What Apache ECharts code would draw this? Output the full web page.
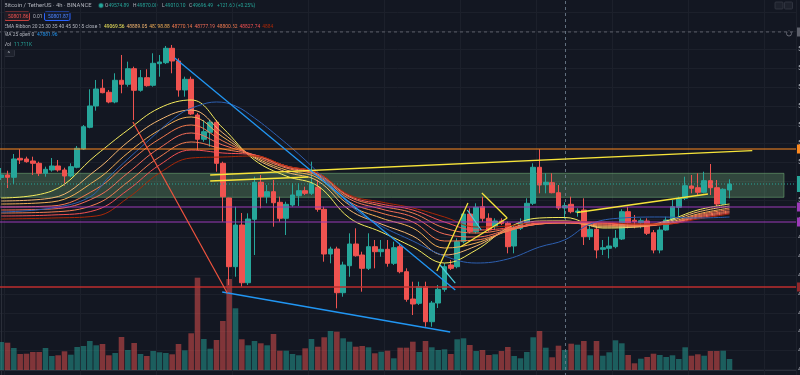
<!DOCTYPE html>
<html>
<head>
<meta charset="utf-8">
<title>Bitcoin / TetherUS 4h</title>
<script src="https://cdn.jsdelivr.net/npm/echarts@6/dist/echarts.min.js"></script>
<style>
html, body { margin: 0; padding: 0; background: #131722; }
#chart { width: 800px; height: 375px; }
</style>
</head>
<body>
<div id="chart"></div>
<script>
// ---- data (BTCUSDT 4h, Binance) ----
const opens = [51197,51330,51208,52218,52181,52075,51952,51420,51596,51809,
  51596,51277,51740,52713,53868,55001,55942,55730,55214,56368,
  56155,56985,55836,56506,56102,57251,57304,58070,57395,55852,
  56421,54522,53229,53602,54134,51952,50106,46452,48670,45600,
  48973,50942,50176,50442,49878,49026,49734,50229,50495,50356,
  50676,49505,47127,47393,45068,46505,47659,47074,46366,47516,
  47250,47377,46632,47516,46186,44733,44504,45388,43526,44520,
  45249,46542,46452,47782,49255,48314,49644,49026,48580,48883,
  48760,47553,48494,48760,49824,51740,50814,50920,50388,49574.89,
  49771,49346,49468,48048,48441,47377,47430,47516,47925,49378,
  48920,48792,48883,48260,47340,48404,48936,49612,50090,50745,
  50654,50410,51027,50654,49787,50532];
const highs = [51702,51559,52447,52697,52304,52304,52038,51772,52234,52128,
  51718,51952,52873,53990,55889,56384,56421,55852,56740,57714,
  57358,57092,56916,56953,57804,57714,58193,58246,57538,56560,
  56560,54628,54256,54256,54256,52038,50122,49644,49308,49292,
  51240,51330,50798,51064,50176,49910,50888,50888,50708,52038,
  51064,49644,47516,47516,46718,48228,48494,47250,48228,47872,
  47872,47872,47782,47696,46366,45654,45654,45654,44627,45478,
  46632,46808,47962,49378,49558,49824,50176,49292,49026,49026,
  48846,48670,49026,50090,51952,52697,51420,51420,50798,49870,
  50176,49558,50090,48670,48617,47872,48048,48404,49505,49644,
  49202,49026,49026,48404,48580,49112,50000,50176,51240,51330,
  51420,51506,51915,51064,50622,51101];
const lows = [51064,50638,50851,51915,51984,51330,51277,51240,51506,51506,
  50761,51208,51686,52660,53814,54751,55676,55144,55144,55676,
  56028,54256,55762,56028,56028,56560,57235,56740,55496,55496,
  54522,52660,53102,52836,51506,48846,45478,45920,45388,45478,
  47074,49558,49824,48580,48846,48138,49644,49681,50266,50266,
  49378,46718,46632,44238,44856,45920,46984,45122,46276,46366,
  46984,46452,46542,46100,44590,43882,44414,43260,43260,44254,
  45122,46276,46366,47696,48228,48228,48846,48314,48404,48670,
  47164,47164,48404,48670,49734,50356,50356,50356,49468,49010.10,
  49292,49112,47606,47872,46898,47074,46898,47430,47872,48494,
  48494,48494,48138,47164,47164,48367,48846,49112,50000,50356,
  50266,50356,50266,49681,49734,50090];
const closes = [51330,51208,52181,52128,52038,51952,51420,51633,51809,51596,
  51277,51772,52750,53900,55001,55905,55708,55214,56368,56155,
  56985,55836,56506,56081,57272,57342,58070,57395,55852,56421,
  54575,53229,53634,54134,51952,50176,46452,48670,45600,48989,
  50942,50176,50442,49856,49026,49771,50266,50495,50356,50888,
  49505,47127,47393,45068,46542,47659,47037,46366,47516,47250,
  47377,46632,47462,46186,44717,44467,45388,43526,44520,45249,
  46452,46366,47782,49255,48314,49612,49026,48404,48883,48760,
  47516,48494,48792,49824,51740,50798,50942,50388,49574.89,49696.49,
  49378,49415,48048,48441,47340,47462,47553,47962,49378,48792,
  48846,48899,48228,47340,48404,48936,49644,50090,50761,50622,
  50410,51027,50654,49787,50569,50851];
const volumes = [16390,15980,12880,9370,9540,10540,10540,12880,8200,8610,
  10950,8960,13470,14050,16980,14460,15220,8610,9950,19320,
  11710,15810,9370,8200,11120,10360,9950,9190,15220,11530,
  21490,54040,18150,12470,17570,28690,53280,36130,17980,14460,
  16980,15630,14460,21080,11300,11300,9370,8610,12710,18150,
  13640,19150,22830,22420,18560,16570,13640,14050,13290,9780,
  10710,11300,6850,13060,13060,16570,10540,16980,13290,11710,
  12120,9370,17980,18560,14640,11120,11710,8780,9190,11120,
  13470,8200,6850,10540,19150,22830,13060,7440,14230,11711,
  15400,14810,16980,8610,16980,8370,10360,17390,15630,8780,
  3920,6620,7610,9540,8780,7610,8610,6440,13290,8370,
  9190,8370,11120,11120,11300,6440];

// EMA ribbon (20..55) read at these candle indices
const emaIdx = [0,8,15,20,25,30,35,40,45,50,55,60,65,70,75,80,85,89,95,100,105,110,115];
const ema20 = [50106,50479,52394,53724,54894,55320,53830,52128,51277,50745,49042,48298,47500,46648,47340,48510,49042,49069.56,48510,48564,48883,49468,49787];
const ema25 = [49947,50106,51596,53086,54256,54788,53564,52234,51490,51011,49468,48723,48085,47074,47553,48404,48883,48889.05,48564,48564,48830,49362,49681];
const ema30 = [49787,49894,51064,52500,53724,54416,53352,52288,51596,51170,49734,49042,48510,47446,47712,48351,48776,48798.88,48617,48617,48776,49255,49574];
const ema35 = [49628,49681,50585,51968,53245,53990,53139,52341,51702,51277,49894,49308,48830,47819,47872,48351,48723,48770.14,48670,48617,48723,49202,49495];
const ema40 = [49468,49521,50160,51436,52766,53564,52926,52394,51756,51330,50053,49521,49096,48191,48032,48404,48723,48777.19,48723,48670,48723,49149,49415];
const ema45 = [49308,49362,49787,50958,52288,53086,52713,52394,51809,51383,50160,49681,49308,48510,48244,48457,48723,48800.82,48776,48670,48723,49096,49362];
const ema50 = [49149,49202,49468,50532,51862,52660,52500,52394,51809,51436,50213,49787,49468,48830,48404,48510,48776,48827.74,48776,48723,48723,49042,49308];
const ema55 = [48989,49042,49149,50106,51436,52234,52288,52341,51809,51436,50266,49894,49574,49096,48564,48617,48830,48845,48830,48723,48723,48989,49255];

// MA 25 (open)
const maIdx = [0,8,14,17,23,28,31,34,37,40,44,48,52,56,60,65,70,75,80,85,89,93,98,104,110,115];
const ma25 = [49362,49574,50160,51224,53086,54522,55001,55214,55001,54362,53298,52128,50798,49468,48617,47819,47021,46648,46861,47500,47881.96,48723,49042,49096,49042,49096];

// drawings: [candle index, price] pairs
const yellowLines = [
  [[33.0, 51330], [118.6, 52623]],
  [[33.0, 51011], [48.5, 51224]],
  [[68.8, 46223], [73.7, 49840]],
  [[75.9, 50372], [79.9, 49042]],
  [[72.5, 47500], [79.9, 49042]],
  [[90.9, 49335], [111.6, 50319]]
];
const blueLines = [
  [[27.4, 57554], [71.7, 45212]],
  [[34.9, 45106], [70.9, 42978]]
];
const cyanLines = [
  [[69.3, 46542], [71.7, 45584]],
  [[73.6, 49468], [75.8, 48404]]
];
const redLines = [
  [[20.8, 54150], [35.7, 45052]]
];
const zoneTop = 51420, zoneBottom = 50144, zoneEnd = 123.6;
const levelPrices = [52713, 49628, 48830, 45372];
const alertPrice = 58940;
const crosshairIndex = 89;
const TOTAL_SLOTS = 126;

// categories: 4h candles starting 2021-02-17 00:00 UTC
const categories = [];
for (let k = 0; k < TOTAL_SLOTS; k++) {
  const d = new Date(Date.UTC(2021, 1, 17) + k * 4 * 3600 * 1000);
  categories.push((d.getUTCMonth() + 1) + '/' + d.getUTCDate() + ' ' + String(d.getUTCHours()).padStart(2, '0') + ':00');
}

// ---- chart ----
const UP = '#26a69a', DOWN = '#ef5350';
const emaColors = ['#f5eb5d', '#f5b771', '#f5b056', '#f57b4e', '#f56d58', '#f57d51', '#f55151', '#aa2707'];
const levelColors = ['#ff8a1f', '#9c3bb8', '#9c3bb8', 'rgba(190,45,45,0.75)'];
const font = 'Roboto';
const hf = '4.9px ' + font;

let chart = echarts.init(document.getElementById('chart'));

const candleData = opens.map((o, i) => [o, closes[i], lows[i], highs[i]]);
const volData = volumes.map((v, i) => ({
  value: v,
  itemStyle: {color: closes[i] >= opens[i] ? 'rgba(38,166,154,0.5)' : 'rgba(239,83,80,0.5)'}
}));
const lastClose = closes[closes.length - 1];

function tag(color, text) {
  return {
    show: true, position: 'end', distance: 0, formatter: text,
    backgroundColor: color, color: '#fff', fontSize: 7, fontFamily: font,
    padding: [1, 3]
  };
}

const emaSeries = [ema20, ema25, ema30, ema35, ema40, ema45, ema50, ema55].map((arr, j) => ({
  type: 'line', xAxisIndex: 2, yAxisIndex: 0, z: 5,
  data: emaIdx.map((k, n) => [k, arr[n]]),
  smooth: 0.4, symbol: 'none',
  lineStyle: {color: emaColors[j], width: 1}
}));

function segSeries(list, color, width) {
  return list.map(seg => ({
    type: 'line', xAxisIndex: 2, yAxisIndex: 0, z: 8,
    data: seg, symbol: 'none', lineStyle: {color: color, width: width}
  }));
}

// horizontal levels drawn as flat two-point lines across the pane
function levelSeries(price, color, width, dash) {
  return {
    type: 'line', xAxisIndex: 2, yAxisIndex: 0, z: 6, symbol: 'none', silent: true,
    data: [[-0.5, price], [TOTAL_SLOTS - 0.5, price]],
    lineStyle: {color: color, width: width, type: dash || 'solid'},
    endLabel: {show: true, distance: 1, backgroundColor: color, color: '#fff', fontSize: 7,
      fontFamily: font, padding: [1, 3], formatter: price.toFixed(2)}
  };
}

const option = {
  backgroundColor: '#131722',
  animation: false,
  grid: [
    {left: -2, right: 4, top: -6.8, bottom: -13, outerBoundsMode: 'none', containLabel: false},
    {left: -2, right: 4, top: 267.5, bottom: 5, outerBoundsMode: 'none', containLabel: false}
  ],
  xAxis: [
    {
      type: 'category', gridIndex: 0, data: categories, boundaryGap: true,
      axisLine: {show: false}, axisTick: {show: false}, axisLabel: {show: false},
      splitLine: {show: true, interval: (idx) => idx % 12 === 1, lineStyle: {color: '#1c202b'}}
    },
    {
      type: 'category', gridIndex: 1, data: categories, boundaryGap: true,
      axisLine: {show: false}, axisTick: {show: false}, axisLabel: {show: false}, splitLine: {show: false}
    },
    {type: 'value', gridIndex: 0, min: -0.5, max: TOTAL_SLOTS - 0.5, show: false}
  ],
  yAxis: [
    {
      type: 'value', gridIndex: 0, position: 'right', min: 40000, max: 61000, interval: 1000,
      axisLine: {show: true, lineStyle: {color: '#2a2e39'}},
      axisTick: {show: false},
      axisLabel: {color: '#b2b5be', fontSize: 7, fontFamily: font, margin: 2,
        formatter: v => (v <= 58000 ? v.toFixed(2) : '')},
      splitLine: {show: true, lineStyle: {color: '#1c202b'}}
    },
    {type: 'value', gridIndex: 1, min: 0, max: 60000, show: false, splitLine: {show: false}}
  ],
  series: [
    {
      type: 'bar', xAxisIndex: 1, yAxisIndex: 1, data: volData, barWidth: '88%', z: 1
    },
    {
      type: 'candlestick', xAxisIndex: 0, yAxisIndex: 0, data: candleData, barWidth: '80%', z: 3,
      itemStyle: {color: UP, color0: DOWN, borderColor: UP, borderColor0: DOWN, borderWidth: 1},
      markLine: {
        symbol: 'none', silent: true, label: {show: false},
        data: [{xAxis: crosshairIndex, lineStyle: {color: '#758696', type: [3, 3], width: 1, opacity: 0.8}}]
      }
    },
    {
      type: 'line', xAxisIndex: 2, yAxisIndex: 0, z: 2, data: [[0, zoneTop]], symbol: 'none',
      lineStyle: {opacity: 0},
      markArea: {
        silent: true,
        itemStyle: {color: 'rgba(129,199,132,0.28)', borderColor: 'rgba(129,199,132,0.45)', borderWidth: 1},
        data: [[{coord: [-0.5, zoneTop]}, {coord: [zoneEnd, zoneBottom]}]]
      }
    },
    levelSeries(levelPrices[0], levelColors[0], 1.2),
    levelSeries(levelPrices[1], levelColors[1], 1.2),
    levelSeries(levelPrices[2], levelColors[2], 1.2),
    levelSeries(levelPrices[3], levelColors[3], 2),
    levelSeries(alertPrice, '#5d606b', 1, [3, 3]),
    Object.assign(levelSeries(lastClose, UP, 1, [1, 2]), {
      endLabel: {show: true, distance: 1, backgroundColor: UP, color: '#fff', fontSize: 7, lineHeight: 7,
        fontFamily: font, padding: [1, 3], formatter: lastClose.toFixed(2) + '\n01:32:10'}
    }),
    ...emaSeries,
    {
      type: 'line', xAxisIndex: 2, yAxisIndex: 0, z: 5,
      data: maIdx.map((k, n) => [k, ma25[n]]),
      smooth: 0.4, symbol: 'none', lineStyle: {color: '#2d5fb0', width: 1}
    },
    ...segSeries(yellowLines, '#f7e43a', 1.3),
    ...segSeries(blueLines, '#2196f3', 1.3),
    ...segSeries(cyanLines, '#4dd0e1', 1.2),
    ...segSeries(redLines, '#f0533e', 1.2)
  ],
  graphic: [
    {type: 'text', left: 4, top: 2.5, style: {text: 'Bitcoin / TetherUS · 4h · BINANCE', fill: '#b2b5be', font: '5.9px ' + font}},
    {type: 'circle', shape: {cx: 101, cy: 5.5, r: 2}, style: {fill: '#26a69a', stroke: 'rgba(38,166,154,0.4)', lineWidth: 1.5}},
    {type: 'text', left: 105, top: 3, style: {text: 'O', fill: '#b2b5be', font: hf}},
    {type: 'text', left: 108.5, top: 3, style: {text: '49574.89', fill: UP, font: hf}},
    {type: 'text', left: 133, top: 3, style: {text: 'H', fill: '#b2b5be', font: hf}},
    {type: 'text', left: 137, top: 3, style: {text: '49870.00', fill: UP, font: hf}},
    {type: 'text', left: 162, top: 3, style: {text: 'L', fill: '#b2b5be', font: hf}},
    {type: 'text', left: 165, top: 3, style: {text: '49010.10', fill: UP, font: hf}},
    {type: 'text', left: 189, top: 3, style: {text: 'C', fill: '#b2b5be', font: hf}},
    {type: 'text', left: 192.5, top: 3, style: {text: '49696.49', fill: UP, font: hf}},
    {type: 'text', left: 217, top: 3, style: {text: '+121.60 (+0.25%)', fill: UP, font: hf}},

    {type: 'rect', shape: {x: 4.5, y: 12, width: 25, height: 8.5, r: 1.5}, style: {fill: 'rgba(239,83,80,0.08)', stroke: '#c2403d', lineWidth: 1}},
    {type: 'text', left: 8, top: 14, style: {text: '50801.86', fill: '#ef5350', font: hf}},
    {type: 'text', left: 33, top: 14, style: {text: '0.01', fill: '#b2b5be', font: hf}},
    {type: 'rect', shape: {x: 44.5, y: 12, width: 25.5, height: 8.5, r: 1.5}, style: {fill: 'rgba(41,98,255,0.08)', stroke: '#2962ff', lineWidth: 1}},
    {type: 'text', left: 48, top: 14, style: {text: '50801.87', fill: '#4f86ff', font: hf}},

    {type: 'text', left: 4, top: 24, style: {text: 'EMA Ribbon 20 25 30 35 40 45 50 55 close 1', fill: '#b2b5be', font: hf}},
    ...['49069.56', '48889.05', '48798.88', '48770.14', '48777.19', '48800.82', '48827.74', '4884'].map((t, j) => ({
      type: 'text', left: 104 + j * 22.6, top: 24, style: {text: t, fill: emaColors[j], font: hf}
    })),
    {type: 'text', left: 4, top: 32.5, style: {text: 'MA 25 open 0', fill: '#b2b5be', font: hf}},
    {type: 'text', left: 37, top: 32.5, style: {text: '47881.96', fill: '#2196f3', font: hf}},
    {type: 'text', left: 4, top: 42, style: {text: 'Vol', fill: '#b2b5be', font: hf}},
    {type: 'text', left: 14, top: 42, style: {text: '11.711K', fill: UP, font: hf}},
    {type: 'rect', shape: {x: 4.5, y: 49.5, width: 10, height: 7, r: 1}, style: {fill: '#1e222d', stroke: '#363a45', lineWidth: 0.8}},
    {type: 'text', left: 7.5, top: 50.5, style: {text: '^', fill: '#b2b5be', font: '6px ' + font}},

    {type: 'rect', shape: {x: 775, y: 2, width: 8, height: 7, r: 1}, style: {fill: '#1e222d', stroke: '#363a45', lineWidth: 0.8}},
    {type: 'rect', shape: {x: 784.5, y: 2, width: 8, height: 7, r: 1}, style: {fill: '#1e222d', stroke: '#363a45', lineWidth: 0.8}},
    {type: 'circle', shape: {cx: 789, cy: 33.5, r: 2.5}, style: {fill: '#131722', stroke: '#787b86', lineWidth: 0.8}},
    {type: 'line', shape: {x1: 0, y1: 370.5, x2: 796, y2: 370.5}, style: {stroke: '#2a2e39', lineWidth: 1}}
  ]
};

chart.setOption(option);
</script>
</body>
</html>
